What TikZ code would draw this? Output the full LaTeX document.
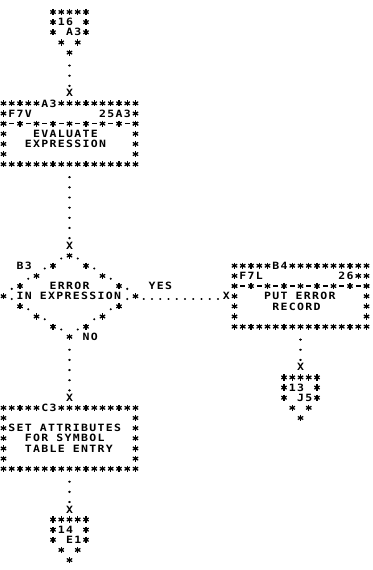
\documentclass[tikz,border=0pt]{standalone}
\usepackage{fontspec}
\usetikzlibrary{calc}
\newfontfamily\lpfont[LetterSpace=13.3,FakeStretch=1.15]{DejaVu Sans Mono}
\newfontfamily\lpxfont[FakeStretch=1.15]{DejaVu Sans Mono}
\newcommand\cx[1]{(3.5+8.25*(#1))}
\newcommand\ry[1]{(-12-10.15*(#1))}
\newcommand\As[2]{\pic at ({\cx{#1}},{\ry{#2}}) {ast};}
\newcommand\Dt[2]{\fill ({\cx{#1}},{\ry{#2}-2.8}) circle (1.15pt);}
\newcommand\Ds[2]{\draw[line width=1.2pt] ({\cx{#1}-2.5},{\ry{#2}}) -- ({\cx{#1}+2.5},{\ry{#2}});}
\newcommand\Tx[4]{\node[lp] (#1) at ({\cx{#2}-3.46},{\ry{#3}-3.65}) {#4};}
\newcommand\Xm[3]{\node[xmark] (#1) at ({\cx{#2}},{\ry{#3}}) {X};}
\newcommand\BoxFrame[2]{%
  \foreach \c in {0,...,4} {\As{#1+\c}{#2}}
  \foreach \c in {7,...,16} {\As{#1+\c}{#2}}
  \foreach \r in {1,...,5} {\As{#1}{#2+\r}\As{#1+16}{#2+\r}}
  \foreach \c in {0,...,16} {\As{#1+\c}{#2+6}}}
\newcommand\SepRow[2]{%
  \foreach \c in {0,2,...,16} {\As{#1+\c}{#2}}
  \foreach \c in {1,3,...,15} {\Ds{#1+\c}{#2}}}
\newcommand\PageConn[2]{%
  \foreach \c in {-2,...,2} {\As{#1+\c}{#2}}
  \As{#1-2}{#2+1}\As{#1+2}{#2+1}
  \As{#1-2}{#2+2}\As{#1+2}{#2+2}
  \As{#1-1}{#2+3}\As{#1+1}{#2+3}
  \As{#1}{#2+4}}
\tikzset{
  ast/.pic={\fill (0,0) circle (1.8pt);
    \foreach \a in {30,90,150} {\draw[line width=1.25pt] (\a:3.1pt) -- ({\a+180}:3.1pt);}},
  lp/.style={font={\lpfont\bfseries\fontsize{10}{11}\selectfont\spaceskip=8.25pt\relax},
    inner sep=0pt, outer sep=0pt, anchor=base west},
  xmark/.style={font={\lpxfont\bfseries\fontsize{10}{11}\selectfont},
    inner sep=0pt, outer sep=0pt, text height=7.3pt, text depth=0pt, minimum height=10.15pt},
  blk/.style={inner sep=0pt, outer sep=0pt, minimum width=132pt, minimum height=60.9pt},
  conblk/.style={blk, minimum width=33pt, minimum height=40.6pt},
  dotv/.style={line width=2.3pt, line cap=round, dash pattern=on 0.01pt off 10.14pt},
  doth/.style={line width=2.3pt, line cap=round, dash pattern=on 0.01pt off 8.24pt},
}
\begin{document}
\begin{tikzpicture}[x=1pt,y=1pt]
\fill[white] (0,0) rectangle (372,-570);
\useasboundingbox (0,0) rectangle (372,-570);

% invisible block nodes
\node[conblk] (p16) at ({\cx{8}},{\ry{2}}) {};
\node[blk] (a3) at ({\cx{8}},{\ry{12}}) {};
\node[blk, minimum height=81.2pt] (b3) at ({\cx{8}},{\ry{28}}) {};
\node[blk] (b4) at ({\cx{36}},{\ry{28}}) {};
\node[blk] (c3) at ({\cx{8}},{\ry{42}}) {};
\node[conblk] (p13) at ({\cx{36}},{\ry{38}}) {};
\node[conblk] (p14) at ({\cx{8}},{\ry{52}}) {};

% off-page connector 16 / A3
\PageConn{8}{0}
\Tx{p16a}{7}{1}{16}
\Tx{p16b}{8}{2}{A3}
\Xm{xa3}{8}{8}

% box A3
\BoxFrame{0}{9}
\SepRow{0}{11}
\Tx{a3id}{5}{9}{A3}
\Tx{a3f}{1}{10}{F7V}
\Tx{a3p}{12}{10}{25A3}
\Tx{a3t1}{4}{12}{EVALUATE}
\Tx{a3t2}{3}{13}{EXPRESSION}

% decision B3
\Xm{xb3}{8}{23}
\Dt{7}{24}\As{8}{24}\Dt{9}{24}
\Tx{b3id}{2}{25}{B3}
\Dt{5}{25}\As{6}{25}\As{10}{25}\Dt{11}{25}
\Dt{3}{26}\As{4}{26}\As{12}{26}\Dt{13}{26}
\Dt{1}{27}\As{2}{27}\As{14}{27}\Dt{15}{27}
\Tx{b3t1}{6}{27}{ERROR}
\Tx{yes}{18}{27}{YES}
\As{0}{28}\Dt{1}{28}\Dt{15}{28}\As{16}{28}
\Tx{b3t2}{2}{28}{IN EXPRESSION}
\As{2}{29}\Dt{3}{29}\Dt{13}{29}\As{14}{29}
\As{4}{30}\Dt{5}{30}\Dt{11}{30}\As{12}{30}
\As{6}{31}\Dt{7}{31}\Dt{9}{31}\As{10}{31}
\As{8}{32}
\Tx{no}{10}{32}{NO}

% box B4
\Xm{xb4}{27}{28}
\BoxFrame{28}{25}
\SepRow{28}{27}
\Tx{b4id}{33}{25}{B4}
\Tx{b4f}{29}{26}{F7L}
\Tx{b4p}{41}{26}{26}
\As{43}{26}
\Tx{b4t1}{32}{28}{PUT ERROR}
\Tx{b4t2}{33}{29}{RECORD}

% off-page connector 13 / J5
\Xm{xj5}{36}{35}
\PageConn{36}{36}
\Tx{p13a}{35}{37}{13}
\Tx{p13b}{36}{38}{J5}

% box C3
\Xm{xc3}{8}{38}
\BoxFrame{0}{39}
\Tx{c3id}{5}{39}{C3}
\Tx{c3t1}{1}{41}{SET ATTRIBUTES}
\Tx{c3t2}{3}{42}{FOR SYMBOL}
\Tx{c3t3}{3}{43}{TABLE ENTRY}

% off-page connector 14 / E1
\Xm{xe1}{8}{49}
\PageConn{8}{50}
\Tx{p14a}{7}{51}{14}
\Tx{p14b}{8}{52}{E1}

% connectors
\draw[dotv] ($(p16.south)+(0,-12.95)$) -- ($(xa3.north)+(0,2.0)$);
\draw[dotv] ($(a3.south)+(0,-12.95)$) -- ($(xb3.north)+(0,2.0)$);
\draw[dotv] ($(b3.south)+(0,-12.95)$) -- ($(xc3.north)+(0,2.0)$);
\draw[doth] ($(b3.east)+(8.25,-2.8)$) -- ($(xb4.west)+(-4.5,-2.8)$);
\draw[dotv] ($(b4.south)+(0,-12.95)$) -- ($(xj5.north)+(0,2.0)$);
\draw[dotv] ($(c3.south)+(0,-12.95)$) -- ($(xe1.north)+(0,2.0)$);
\end{tikzpicture}
\end{document}
